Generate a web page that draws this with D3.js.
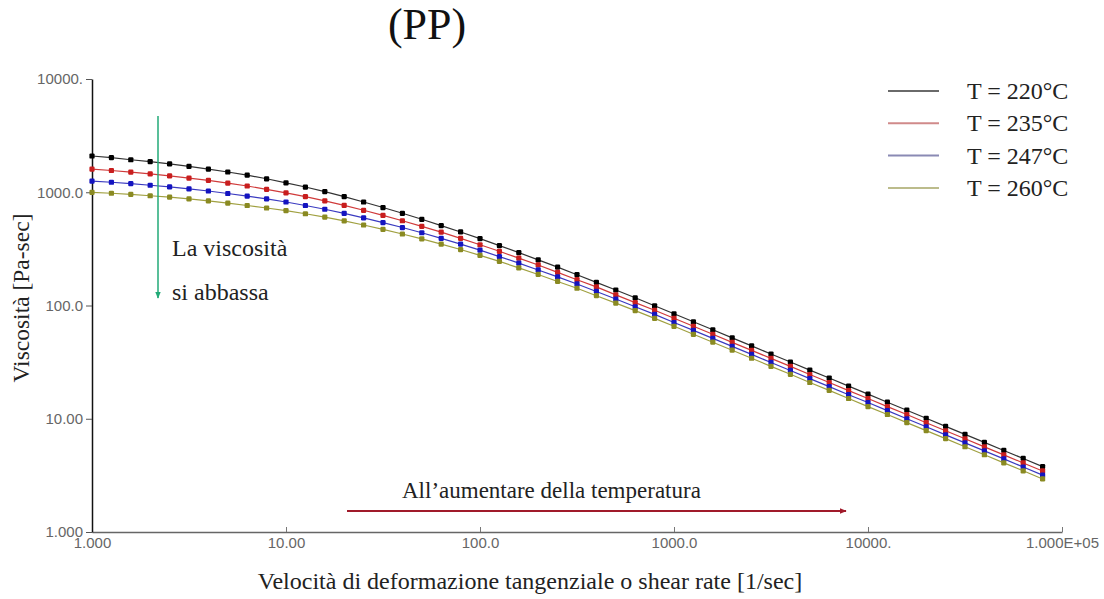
<!DOCTYPE html>
<html>
<head>
<meta charset="utf-8">
<script src="https://cdn.jsdelivr.net/npm/d3@7"></script>
<style>
  html, body { margin: 0; padding: 0; background: #fff; }
  svg { display: block; }
</style>
</head>
<body>
<svg id="chart" width="1104" height="599"></svg>
<script>
// ---- Data ----
const shearRates = [
  1, 1.259, 1.585, 1.995, 2.512, 3.162, 3.981, 5.012, 6.310, 7.943,
  10, 12.59, 15.85, 19.95, 25.12, 31.62, 39.81, 50.12, 63.10, 79.43,
  100, 125.9, 158.5, 199.5, 251.2, 316.2, 398.1, 501.2, 631.0, 794.3,
  1000, 1259, 1585, 1995, 2512, 3162, 3981, 5012, 6310, 7943,
  10000, 12589, 15849, 19953, 25119, 31623, 39811, 50119, 63096, 79433
];
const visc220 = [
  2090, 2020, 1936, 1862, 1778, 1694, 1603, 1510, 1416, 1315,
  1211, 1112, 1012, 914, 820, 733, 652, 577, 508, 446,
  389, 338, 293, 253, 218, 187, 160, 137, 117, 99.5,
  84.5, 71.8, 61.0, 51.8, 44.0, 37.3, 31.7, 26.9, 22.9, 19.4,
  16.5, 14.0, 11.9, 10.1, 8.57, 7.28, 6.18, 5.25, 4.46, 3.78
];
const visc235 = [
  1600, 1556, 1503, 1452, 1393, 1334, 1271, 1202, 1135, 1062,
  989, 914, 839, 766, 693, 625, 560, 500, 444, 392,
  344, 301, 262, 228, 196, 169, 146, 124, 106, 90.8,
  77.1, 65.5, 55.7, 47.3, 40.2, 34.1, 29.0, 24.6, 20.9, 17.7,
  15.1, 12.8, 10.9, 9.23, 7.83, 6.65, 5.65, 4.80, 4.07, 3.46
];
const visc247 = [
  1256, 1225, 1191, 1153, 1114, 1072, 1026, 975, 925, 873,
  820, 764, 708, 650, 594, 540, 488, 439, 392, 348,
  308, 270, 237, 206, 179, 155, 133, 114, 97.5, 83.4,
  70.8, 60.3, 51.3, 43.6, 37.0, 31.4, 26.7, 22.6, 19.2, 16.3,
  13.9, 11.8, 10.0, 8.49, 7.21, 6.12, 5.20, 4.42, 3.75, 3.18
];
const visc260 = [
  998, 980, 957, 931, 904, 873, 839, 802, 764, 726,
  687, 646, 603, 558, 514, 470, 428, 387, 348, 312,
  277, 245, 215, 188, 163, 142, 122, 105, 90.0, 76.9,
  65.5, 55.7, 47.4, 40.3, 34.2, 29.0, 24.7, 20.9, 17.8, 15.1,
  12.8, 10.9, 9.25, 7.85, 6.67, 5.66, 4.81, 4.08, 3.47, 2.94
];
const seriesNames = ["T = 220°C", "T = 235°C", "T = 247°C", "T = 260°C"];
const xTickValues = [1, 10, 100, 1000, 10000, 100000];
const xTickLabels = ["1.000", "10.00", "100.0", "1000.0", "10000.", "1.000E+05"];
const yTickValues = [1, 10, 100, 1000, 10000];
const yTickLabels = ["1.000", "10.00", "100.0", "1000.0", "10000."];

// ---- Styles ----
const lineColors   = ["#333333", "#d03a3a", "#3a3ac0", "#a0a040"];
const markerColors = ["#000000", "#c81e1e", "#1414c0", "#8a8a22"];
const legendColors = ["#6a6a6a", "#d08a8a", "#8a8ab4", "#bcbc8c"];
const serif = "'Liberation Serif', 'Times New Roman', serif";
const sans  = "'Liberation Sans', Arial, sans-serif";

const svg = d3.select("#chart");
const x = d3.scaleLog().domain([1, 1e5]).range([92, 1062]);
const y = d3.scaleLog().domain([1, 1e4]).range([532, 79]);

// arrow markers
const defs = svg.append("defs");
function arrowMarker(id, color) {
  defs.append("marker")
    .attr("id", id).attr("viewBox", "0 0 10 10")
    .attr("refX", 9).attr("refY", 5)
    .attr("markerWidth", 7).attr("markerHeight", 7)
    .attr("markerUnits", "userSpaceOnUse")
    .attr("orient", "auto")
    .append("path").attr("d", "M0,1 L10,5 L0,9 Z").attr("fill", color);
}
arrowMarker("arrGreen", "#22aa77");
arrowMarker("arrRed", "#a01a2a");

// ---- Axes ----
const xAxis = d3.axisBottom(x)
  .tickValues(xTickValues)
  .tickFormat((d, i) => xTickLabels[i])
  .tickSizeInner(-5).tickSizeOuter(0).tickPadding(5);
const gx = svg.append("g").attr("transform", "translate(0,532)").call(xAxis);
gx.select(".domain").attr("stroke", "#666").attr("stroke-width", 1.5);
gx.selectAll(".tick line").attr("stroke", "#777");
gx.selectAll(".tick text").attr("fill", "#666").attr("font-family", sans).attr("font-size", 15);

const yAxis = d3.axisLeft(y)
  .tickValues(yTickValues)
  .tickFormat((d, i) => yTickLabels[i])
  .tickSizeInner(6).tickSizeOuter(0).tickPadding(3);
const gy = svg.append("g").attr("transform", "translate(92,0)").call(yAxis);
gy.select(".domain").attr("stroke", "#111").attr("stroke-width", 1.5);
gy.selectAll(".tick line").attr("stroke", "#555");
gy.selectAll(".tick text").attr("fill", "#666").attr("font-family", sans).attr("font-size", 15);

// ---- Series ----
const allSeries = [visc220, visc235, visc247, visc260];
const line = d3.line().x(d => x(d[0])).y(d => y(d[1]));
allSeries.forEach((vals, si) => {
  const pts = shearRates.map((s, i) => [s, vals[i]]);
  svg.append("path").datum(pts)
    .attr("fill", "none").attr("stroke", lineColors[si]).attr("stroke-width", 1.2)
    .attr("d", line);
  svg.append("g").selectAll("rect").data(pts).join("rect")
    .attr("x", d => x(d[0]) - 2.6).attr("y", d => y(d[1]) - 2.6)
    .attr("width", 5.2).attr("height", 5.2).attr("rx", 1.2)
    .attr("fill", markerColors[si]);
});

// ---- Legend ----
const legend = svg.append("g");
seriesNames.forEach((name, i) => {
  const ly = 91 + i * 32.3;
  legend.append("line").attr("x1", 888).attr("x2", 939).attr("y1", ly).attr("y2", ly)
    .attr("stroke", legendColors[i]).attr("stroke-width", 2);
  legend.append("text").attr("x", 967).attr("y", ly + 8)
    .attr("font-family", serif).attr("font-size", 24).attr("fill", "#222").text(name);
});

// ---- Titles ----
svg.append("text").attr("x", 427).attr("y", 39).attr("text-anchor", "middle")
  .attr("font-family", serif).attr("font-size", 44).attr("fill", "#111").text("(PP)");
svg.append("text").attr("x", 530).attr("y", 589).attr("text-anchor", "middle")
  .attr("font-family", serif).attr("font-size", 24).attr("fill", "#222")
  .text("Velocità di deformazione tangenziale o shear rate [1/sec]");
svg.append("text").attr("transform", "translate(29,298) rotate(-90)").attr("text-anchor", "middle")
  .attr("font-family", serif).attr("font-size", 23.5).attr("fill", "#222")
  .text("Viscosità [Pa-sec]");

// ---- Annotations ----
svg.append("line").attr("x1", 158).attr("y1", 116).attr("x2", 158).attr("y2", 298)
  .attr("stroke", "#22aa77").attr("stroke-width", 1.5).attr("marker-end", "url(#arrGreen)");
svg.append("text").attr("x", 172).attr("y", 256)
  .attr("font-family", serif).attr("font-size", 24).attr("fill", "#222").text("La viscosità");
svg.append("text").attr("x", 172).attr("y", 300)
  .attr("font-family", serif).attr("font-size", 24).attr("fill", "#222").text("si abbassa");

svg.append("line").attr("x1", 347).attr("y1", 511).attr("x2", 846).attr("y2", 511)
  .attr("stroke", "#a01a2a").attr("stroke-width", 2).attr("marker-end", "url(#arrRed)");
svg.append("text").attr("x", 402).attr("y", 498)
  .attr("font-family", serif).attr("font-size", 23).attr("fill", "#222").text("All’aumentare della temperatura");
</script>
</body>
</html>
